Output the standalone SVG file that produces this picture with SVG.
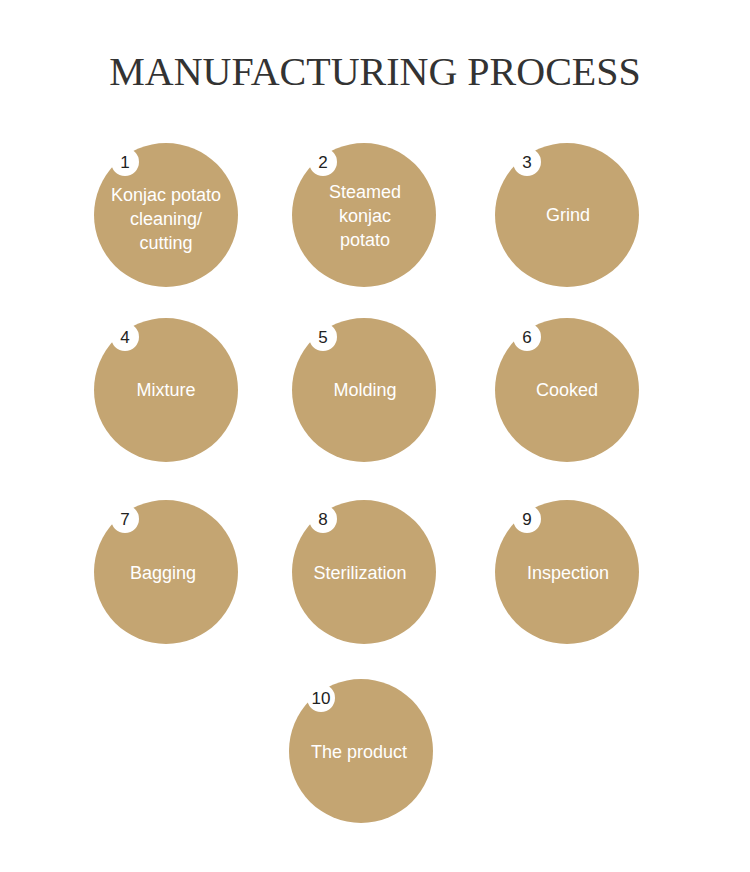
<svg xmlns="http://www.w3.org/2000/svg" width="750" height="872" viewBox="0 0 750 872">
<style>
.c{fill:#c4a572}
.b{fill:#ffffff}
.t{font-family:"Liberation Sans",Arial,sans-serif;font-size:18px;fill:#ffffff;text-anchor:middle}
.n{font-family:"Liberation Sans",Arial,sans-serif;font-size:17px;fill:#222222;text-anchor:middle}
.h{font-family:"Liberation Serif","Times New Roman",serif;font-size:40px;fill:#333333;text-anchor:middle}
</style>
<rect width="750" height="872" fill="#ffffff"/>
<text class="h" x="375" y="85">MANUFACTURING PROCESS</text>
<g id="node1"><circle class="c" cx="166" cy="215" r="72"/><circle class="b" cx="125" cy="162" r="14"/><text class="n" x="125" y="168">1</text><text class="t" x="166" y="201">Konjac potato</text><text class="t" x="166" y="225">cleaning/</text><text class="t" x="166" y="249">cutting</text></g>
<g id="node2"><circle class="c" cx="364" cy="215" r="72"/><circle class="b" cx="323" cy="162" r="14"/><text class="n" x="323" y="168">2</text><text class="t" x="365" y="198">Steamed</text><text class="t" x="365" y="222">konjac</text><text class="t" x="365" y="246">potato</text></g>
<g id="node3"><circle class="c" cx="567" cy="215" r="72"/><circle class="b" cx="527" cy="162" r="14"/><text class="n" x="527" y="168">3</text><text class="t" x="568" y="221">Grind</text></g>
<g id="node4"><circle class="c" cx="166" cy="390" r="72"/><circle class="b" cx="125" cy="337" r="14"/><text class="n" x="125" y="343">4</text><text class="t" x="166" y="396">Mixture</text></g>
<g id="node5"><circle class="c" cx="364" cy="390" r="72"/><circle class="b" cx="323" cy="337" r="14"/><text class="n" x="323" y="343">5</text><text class="t" x="365" y="396">Molding</text></g>
<g id="node6"><circle class="c" cx="567" cy="390" r="72"/><circle class="b" cx="527" cy="337" r="14"/><text class="n" x="527" y="343">6</text><text class="t" x="567" y="396">Cooked</text></g>
<g id="node7"><circle class="c" cx="166" cy="572" r="72"/><circle class="b" cx="125" cy="519" r="14"/><text class="n" x="125" y="525">7</text><text class="t" x="163" y="579">Bagging</text></g>
<g id="node8"><circle class="c" cx="364" cy="572" r="72"/><circle class="b" cx="323" cy="519" r="14"/><text class="n" x="323" y="525">8</text><text class="t" x="360" y="579">Sterilization</text></g>
<g id="node9"><circle class="c" cx="567" cy="572" r="72"/><circle class="b" cx="527" cy="519" r="14"/><text class="n" x="527" y="525">9</text><text class="t" x="568" y="579">Inspection</text></g>
<g id="node10"><circle class="c" cx="361" cy="751" r="72"/><circle class="b" cx="321" cy="698" r="14"/><text class="n" x="321" y="704">10</text><text class="t" x="359" y="758">The product</text></g>
<g id="connectors"></g>
</svg>
